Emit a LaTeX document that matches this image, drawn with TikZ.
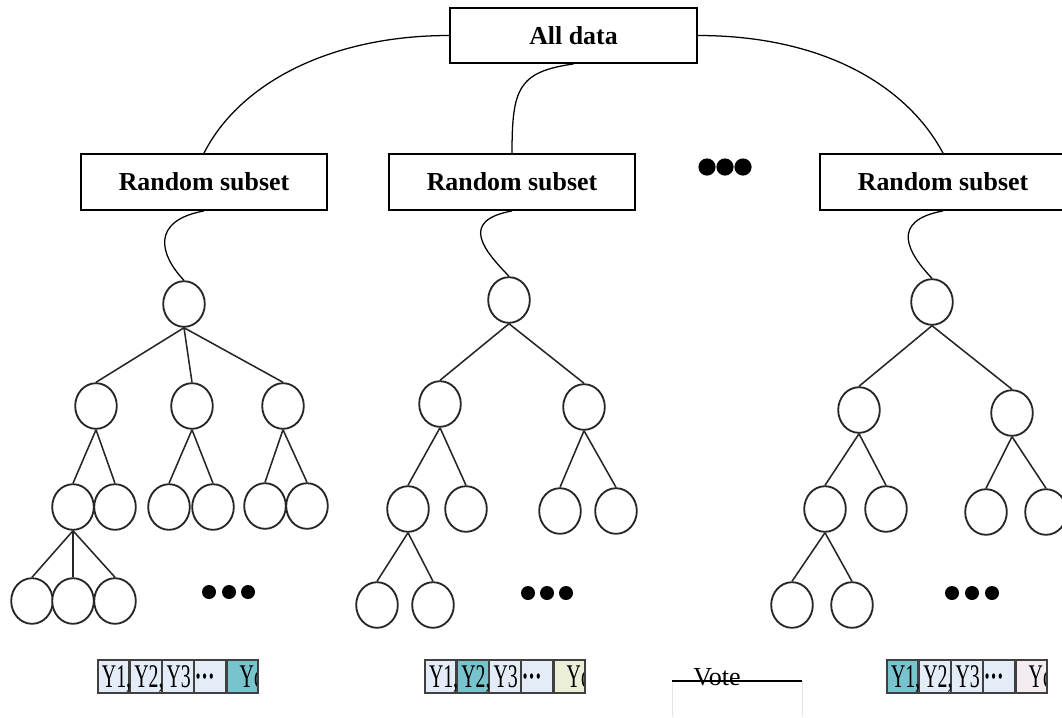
\documentclass[tikz,border=0pt]{standalone}
\usepackage{fontspec}
\setmainfont{Liberation Serif}
\newfontfamily\cellfont[FakeStretch=0.6]{Liberation Serif}
\usepackage{xcolor}
\usepackage{tikz}
\usetikzlibrary{shapes.geometric, positioning}
\definecolor{cellblue}{RGB}{228, 236, 247}
\definecolor{cellteal}{RGB}{120, 196, 206}
\definecolor{cellcream}{RGB}{236, 239, 216}
\definecolor{cellpink}{RGB}{243, 237, 241}

\begin{document}
\begin{tikzpicture}[
    x=0.025cm, y=-0.025cm,
    box/.style={rectangle, draw, line width=1.3pt, fill=white, minimum width=6.15cm, minimum height=1.4cm, font=\fontsize{18.4}{22}\selectfont\bfseries},
    leaf/.style={ellipse, draw=black!85, line width=1.3pt, fill=white, minimum width=1.04cm, minimum height=1.14cm, inner sep=0pt},
    edge/.style={line width=1.1pt, draw=black!85},
    link/.style={line width=0.9pt},
    bigdot/.style={circle, fill, inner sep=0pt, minimum size=0.43cm},
    dot/.style={circle, fill, inner sep=0pt, minimum size=0.35cm},
    cell/.style={rectangle, draw=black!75, line width=0.9pt, fill=cellblue, minimum width=0.775cm, minimum height=0.825cm, inner xsep=0.1cm, inner ysep=0pt, text width=0.575cm, text height=15.5pt, text depth=0pt, align=left, font=\cellfont\fontsize{23.5}{24}\selectfont},
    hit/.style={cell, fill=cellteal},
    lastcell/.style={cell, path picture={\node[anchor=west, inner sep=0pt, text height=15.5pt, text depth=0pt, font=\cellfont\fontsize{23.5}{24}\selectfont] (yc) at ([xshift=0.2cm]path picture bounding box.west) {Yc};}},
    faint/.style={draw=black!10, line width=0.5pt}
]
    \useasboundingbox (0,0) rectangle (1062,717);
    \clip (0,0) rectangle (1062,717);

    % data boxes
    \node[box, minimum width=6.175cm, minimum height=1.375cm] (alld) at (573.5,35.5) {All data};
    \node[box] (sub1) at (204,182) {Random subset};
    \node[box] (sub2) at (512,182) {Random subset};
    \node[box] (sub3) at (943,182) {Random subset};

    \node[bigdot] (m1) at (707,167) {};
    \node[bigdot] (m2) at (725,167) {};
    \node[bigdot] (m3) at (743,167) {};

    % tree a
    \node[leaf] (a0) at (184,304) {};
    \node[leaf] (a1) at (96,406) {};
    \node[leaf] (a2) at (192,406) {};
    \node[leaf] (a3) at (283,406) {};
    \node[leaf] (a11) at (73,507) {};
    \node[leaf] (a12) at (115,507) {};
    \node[leaf] (a21) at (169,507) {};
    \node[leaf] (a22) at (213,507) {};
    \node[leaf] (a31) at (265,506) {};
    \node[leaf] (a32) at (307,506) {};
    \node[leaf] (a111) at (32,601) {};
    \node[leaf] (a112) at (73,601) {};
    \node[leaf] (a113) at (115,601) {};
    \node[dot] (ad1) at (209,592) {};
    \node[dot] (ad2) at (229,592) {};
    \node[dot] (ad3) at (248,592) {};

    % tree b
    \node[leaf] (b0) at (509,300) {};
    \node[leaf] (b1) at (440,404) {};
    \node[leaf] (b2) at (584,407) {};
    \node[leaf] (b11) at (408,509) {};
    \node[leaf] (b12) at (466,509) {};
    \node[leaf] (b21) at (560,511) {};
    \node[leaf] (b22) at (616,511) {};
    \node[leaf] (b111) at (377,605) {};
    \node[leaf] (b112) at (433,605) {};
    \node[dot] (bd1) at (528,593) {};
    \node[dot] (bd2) at (547,593) {};
    \node[dot] (bd3) at (566,593) {};

    % tree c
    \node[leaf] (c0) at (932,302) {};
    \node[leaf] (c1) at (859,410) {};
    \node[leaf] (c2) at (1012,413) {};
    \node[leaf] (c11) at (825,509) {};
    \node[leaf] (c12) at (886,509) {};
    \node[leaf] (c21) at (986,512) {};
    \node[leaf] (c22) at (1046,512) {};
    \node[leaf] (c111) at (792,605) {};
    \node[leaf] (c112) at (852,605) {};
    \node[dot] (cd1) at (952,593) {};
    \node[dot] (cd2) at (972,593) {};
    \node[dot] (cd3) at (992,593) {};

    % class votes
    \node[cell] (la1) at (113.5,676.5) {Y1,};
    \node[cell, right=0pt of la1] (la2) {Y2,};
    \node[cell, right=0pt of la2] (la3) {Y3};
    \node[cell, right=0pt of la3, inner xsep=0pt, text width=0.775cm] (la4) {\bfseries ···};
    \node[lastcell, fill=cellteal, right=0pt of la4] (la5) {};

    \node[cell] (lb1) at (440.5,676.5) {Y1,};
    \node[hit, right=0pt of lb1] (lb2) {Y2,};
    \node[cell, right=0pt of lb2] (lb3) {Y3};
    \node[cell, right=0pt of lb3, inner xsep=0pt, text width=0.775cm] (lb4) {\bfseries ···};
    \node[lastcell, fill=cellcream, right=0pt of lb4] (lb5) {};

    \node[hit] (lc1) at (902.5,676.5) {Y1,};
    \node[cell, right=0pt of lc1] (lc2) {Y2,};
    \node[cell, right=0pt of lc2] (lc3) {Y3};
    \node[cell, right=0pt of lc3, inner xsep=0pt, text width=0.775cm] (lc4) {\bfseries ···};
    \node[lastcell, fill=cellpink, right=0pt of lc4] (lc5) {};

    \coordinate (vl) at (672,681);
    \coordinate (vr) at (802,681);
    \draw[faint] (vl) -- +(0,36);
    \draw[faint] (vr) -- +(0,36);
    \draw[line width=0.9pt] (vl) -- (vr);
    \node[font=\fontsize{18.5}{20}\selectfont, inner sep=0pt] (vote) at (717,677) {Vote};

    % links
    \draw[link] (alld.west) .. controls +(-120,0) and +(35,-69) .. (sub1.north);
    \draw[link] (alld.south) .. controls +(-55,8) and +(0,-65) .. (sub2.north);
    \draw[link] (alld.east) .. controls +(123,0) and +(-37,-69) .. (sub3.north);
    \draw[link] (sub1.south) .. controls +(-54,10) and +(-24,-25) .. (a0.north);
    \draw[link] (sub2.south) .. controls +(-54,10) and +(-24,-25) .. (b0.north);
    \draw[link] (sub3.south) .. controls +(-54,10) and +(-24,-25) .. (c0.north);

    % edges
    \draw[edge] (a0.south) -- (a1.north) (a0.south) -- (a2.north) (a0.south) -- (a3.north);
    \draw[edge] (a1.south) -- (a11.north) (a1.south) -- (a12.north);
    \draw[edge] (a2.south) -- (a21.north) (a2.south) -- (a22.north);
    \draw[edge] (a3.south) -- (a31.north) (a3.south) -- (a32.north);
    \draw[edge] (a11.south) -- (a111.north) (a11.south) -- (a112.north) (a11.south) -- (a113.north);

    \draw[edge] (b0.south) -- (b1.north) (b0.south) -- (b2.north);
    \draw[edge] (b1.south) -- (b11.north) (b1.south) -- (b12.north);
    \draw[edge] (b2.south) -- (b21.north) (b2.south) -- (b22.north);
    \draw[edge] (b11.south) -- (b111.north) (b11.south) -- (b112.north);

    \draw[edge] (c0.south) -- (c1.north) (c0.south) -- (c2.north);
    \draw[edge] (c1.south) -- (c11.north) (c1.south) -- (c12.north);
    \draw[edge] (c2.south) -- (c21.north) (c2.south) -- (c22.north);
    \draw[edge] (c11.south) -- (c111.north) (c11.south) -- (c112.north);
\end{tikzpicture}
\end{document}
